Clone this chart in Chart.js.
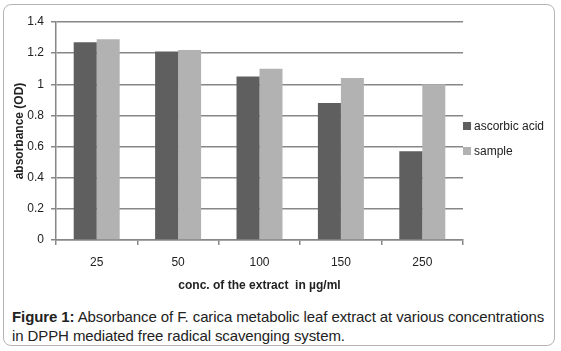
<!DOCTYPE html>
<html>
<head>
<meta charset="utf-8">
<script src="https://cdn.jsdelivr.net/npm/chart.js@4/dist/chart.umd.min.js"></script>
<style>
  html, body { margin:0; padding:0; background:#fff; }
  body { width:561px; height:351px; position:relative; overflow:hidden; font-family:"Liberation Sans", Arial, sans-serif; }
  #frame { position:absolute; left:3px; top:4px; width:552px; height:342px; border:1px solid #b4b4b4; border-radius:8px; box-sizing:border-box; }
  #chart { position:absolute; left:0; top:0; }
  #legend { position:absolute; left:463px; top:119px; font-family:"Liberation Sans", Arial, sans-serif; font-size:12px; color:#222; }
  #legend .item { height:25px; line-height:14px; white-space:nowrap; }
  #legend .sw { display:inline-block; width:8px; height:8px; margin-right:3px; vertical-align:0px; }
  #caption { position:absolute; left:12px; top:307px; width:548px; font-size:15px; line-height:19px; color:#222; letter-spacing:-0.1px; white-space:nowrap; }
</style>
</head>
<body>
<div id="frame"></div>
<canvas id="chart" width="561" height="300"></canvas>
<div id="legend"></div>
<div id="caption"><b>Figure 1:</b> Absorbance of F. carica metabolic leaf extract at various concentrations<br>in DPPH mediated free radical scavenging system.</div>
<script>
const categories = ['25', '50', '100', '150', '250'];
const seriesNames = ['ascorbic acid', 'sample'];
const ascorbicAcid = [1.27, 1.21, 1.05, 0.88, 0.57];
const sampleValues = [1.29, 1.22, 1.10, 1.04, 1.00];
const yTickValues = [0, 0.2, 0.4, 0.6, 0.8, 1, 1.2, 1.4];
const xTitle = 'conc. of the extract  in \u00b5g/ml';
const yTitle = 'absorbance (OD)';
const colors = ['#5f5f5f', '#b2b2b2'];

const gridColor = '#878787';
const tickFont = { family: '"Liberation Sans", Arial, sans-serif', size: 12 };
const titleFont = { family: '"Liberation Sans", Arial, sans-serif', size: 12, weight: 'bold' };

const chart = new Chart(document.getElementById('chart'), {
  type: 'bar',
  data: {
    labels: categories,
    datasets: [
      { label: seriesNames[0], data: ascorbicAcid, backgroundColor: colors[0] },
      { label: seriesNames[1], data: sampleValues, backgroundColor: colors[1] }
    ]
  },
  options: {
    responsive: false,
    animation: false,
    devicePixelRatio: 1,
    layout: { padding: { left: 0, right: 98, top: 22, bottom: 0 } },
    datasets: { bar: { categoryPercentage: 0.565, barPercentage: 1.0 } },
    plugins: { legend: { display: false }, tooltip: { enabled: false } },
    scales: {
      x: {
        grid: { drawOnChartArea: false, drawTicks: true, tickLength: 5, color: gridColor, lineWidth: 1.5, offset: true },
        border: { color: gridColor, width: 1.5 },
        ticks: { color: '#222', font: tickFont, padding: 10 },
        title: { display: true, text: xTitle, color: '#222', font: titleFont, padding: { top: 6, bottom: 7 } },
        afterFit: (s) => { s.height = 60; }
      },
      y: {
        min: 0, max: 1.4,
        afterBuildTicks: (s) => { s.ticks = yTickValues.map(v => ({ value: v })); },
        grid: { color: gridColor, lineWidth: 1.5, tickLength: 5 },
        border: { color: gridColor, width: 1.5 },
        ticks: { color: '#222', font: tickFont, padding: 7, callback: (v) => String(Number(v.toFixed(1))) },
        title: { display: true, text: yTitle, color: '#222', font: titleFont, padding: { top: 12, bottom: 0 } },
        afterFit: (s) => { s.width = 56; }
      }
    }
  }
});

const legend = document.getElementById('legend');
chart.data.datasets.forEach(ds => {
  const item = document.createElement('div');
  item.className = 'item';
  const sw = document.createElement('span');
  sw.className = 'sw';
  sw.style.background = ds.backgroundColor;
  item.appendChild(sw);
  item.appendChild(document.createTextNode(ds.label));
  legend.appendChild(item);
});
</script>
</body>
</html>
